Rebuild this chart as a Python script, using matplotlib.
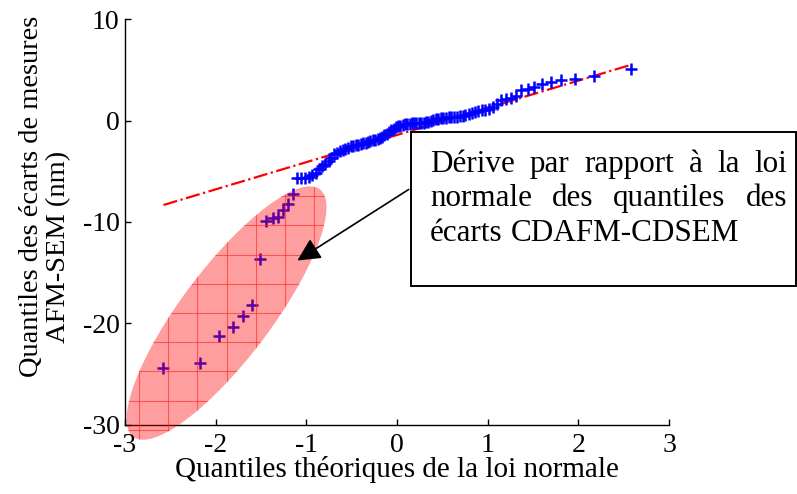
import numpy as np
import matplotlib
matplotlib.use("Agg")
import matplotlib.pyplot as plt
from matplotlib.patches import Ellipse, Rectangle
from matplotlib.transforms import ScaledTranslation
from statistics import NormalDist

plt.rcParams['font.family'] = ['Liberation Serif', 'DejaVu Serif']
plt.rcParams['axes.unicode_minus'] = False

# écarts AFM-SEM triés (nm), 100 mesures
ecarts_nm = [
    -24.4, -23.9, -21.3, -20.35, -19.25, -18.2, -13.65, -9.9, -9.6, -9.5,
    -8.85, -8.2, -7.2,
    -5.67, -5.67, -5.64, -5.6, -5.4, -5.14, -4.82, -4.5, -4.3, -3.98, -3.68,
    -3.30, -3.16, -3.03, -2.93, -2.83, -2.66, -2.53, -2.48, -2.43, -2.37,
    -2.32, -2.24, -2.17, -2.10, -2.04, -1.94, -1.89, -1.82, -1.74, -1.60,
    -1.45, -1.30, -1.15, -0.96, -0.81, -0.66,
    -0.56, -0.49, -0.43, -0.38, -0.34, -0.32, -0.28, -0.26, -0.24, -0.22,
    -0.20, -0.19, -0.17, -0.10, 0.0, 0.09, 0.16, 0.18, 0.22, 0.24,
    0.28, 0.31, 0.33, 0.35, 0.37, 0.41,
    0.50, 0.60, 0.70, 0.79, 0.87, 0.94, 1.02, 1.09, 1.18, 1.36, 1.60, 2.05,
    2.17, 2.28, 2.41, 3.03, 3.08, 3.28, 3.65, 3.77, 3.97, 4.10, 4.43, 5.08,
]
xticks = [-3, -2, -1, 0, 1, 2, 3]
yticks = [-30, -20, -10, 0, 10]
note_lines = ["Dérive par rapport à la loi",
              "normale des quantiles des",
              "écarts CDAFM-CDSEM"]

y = np.sort(np.array(ecarts_nm))
n = len(y)
nd = NormalDist()
x = np.array([nd.inv_cdf((i - 0.5) / n) for i in range(1, n + 1)])

# droite de référence passant par les quartiles (comme qqplot)
q1, q3 = np.percentile(y, [25, 75], method='hazen')
z1, z3 = nd.inv_cdf(0.25), nd.inv_cdf(0.75)
pente = (q3 - q1) / (z3 - z1)
x_mid, y_mid = (z1 + z3) / 2, (q1 + q3) / 2
xl = np.array([x.min(), x.max()])
yl = y_mid + pente * (xl - x_mid)

W, H = 797, 494
fig = plt.figure(figsize=(W / 100, H / 100), dpi=100)
ax = fig.add_axes([125 / W, 69.5 / H, 544 / W, 405.2 / H])

ax.plot(x, y, '+', color='#0000ff', ms=9, mew=1.8, zorder=3)
ax.plot(xl, yl, '-.', color='#ff0000', lw=1.6, zorder=2)

ax.set_xlim(-3, 3)
ax.set_ylim(-30, 10)
ax.set_xticks(xticks)
ax.set_yticks(yticks)
ax.tick_params(direction='in', length=4, width=1, labelsize=20)
ax.tick_params(axis='x', pad=6)
ax.tick_params(axis='y', pad=4)
for s in ['top', 'right']:
    ax.spines[s].set_visible(False)
for s in ['left', 'bottom']:
    ax.spines[s].set_linewidth(1.0)

fig.text(397 / W, (H - 469) / H, "Quantiles théoriques de la loi normale",
         ha='center', va='center', fontsize=21)
fig.text(32 / W, (H - 196) / H, "Quantiles des écarts de mesures",
         ha='center', va='center', rotation=90, fontsize=20.5)
fig.text(59 / W, (H - 247) / H, "AFM-SEM (nm)",
         ha='center', va='center', rotation=90, fontsize=20.5)

# ellipse entourant les points hors loi normale
centre = ScaledTranslation(-1.88, -19.0, ax.transData)
tr = fig.dpi_scale_trans + centre
ell = Ellipse((0, 0), 3.10, 0.90, angle=53, transform=tr,
              facecolor='#ff0000', alpha=0.38, edgecolor='none',
              zorder=4, clip_on=False)
ax.add_patch(ell)
pas = 0.292
for k in np.arange(-6, 7):
    for seg in [([k * pas, k * pas], [-2, 2]), ([-2, 2], [k * pas, k * pas])]:
        ln, = ax.plot(seg[0], seg[1], color='#ff2020', lw=0.8, alpha=0.6,
                      transform=tr, zorder=4)
        ln.set_clip_box(None)
        ln.set_clip_path(ell)

# encadré et flèche
box = Rectangle((411 / W, (H - 286) / H), 385 / W, 154 / H,
                transform=fig.transFigure, facecolor='white',
                edgecolor='black', lw=1.4, zorder=5)
fig.patches.append(box)
ax.annotate('', xy=(295, H - 262), xycoords='figure pixels',
            xytext=(411, H - 188), textcoords='figure pixels',
            arrowprops=dict(arrowstyle='-|>,head_length=0.7,head_width=0.35',
                            mutation_scale=20, color='black', lw=1.2),
            zorder=6)

renderer = fig.canvas.get_renderer()
x0, x1 = 430, 787
baselines = [172, 206, 241]
fs_note = 22.4
for k, line in enumerate(note_lines):
    words = line.split(' ')
    objs = [fig.text(0, (H - baselines[k]) / H, w, fontsize=fs_note,
                     va='baseline', ha='left', zorder=7) for w in words]
    widths = [o.get_window_extent(renderer).width for o in objs]
    if k < len(note_lines) - 1:
        gap = (x1 - x0 - sum(widths)) / (len(words) - 1)
    else:
        gap = renderer.points_to_pixels(fs_note) * 0.25
    xpos = x0
    for o, w in zip(objs, widths):
        o.set_x(xpos / W)
        xpos += w + gap

fig.savefig('out.png', dpi=100)
